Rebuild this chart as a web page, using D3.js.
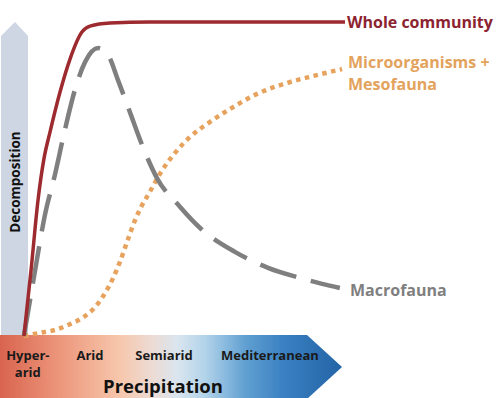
<!DOCTYPE html>
<html>
<head>
<style type="text/css">
body { margin: 0; background: #fff; }
svg { font-family: "Open Sans", Lato, sans-serif; font-weight: bold; }
.curve { fill: none; }
#whole { stroke: #9d2a2e; stroke-width: 3.5; }
#macro { stroke: #7f7f7f; stroke-width: 4.5; stroke-dasharray: 38,15; }
#micro { stroke: #e7a35e; stroke-width: 4.5; stroke-dasharray: 4.5,4.5; }
.cat { font-size: 13px; fill: #1a1a1a; }
.lbl { font-size: 16px; }
</style>
<script src="https://d3js.org/d3.v7.min.js"></script>
</head>
<body>
<script type="text/javascript">
var width  = 496;
var height = 398;

// precipitation (0-100) vs decomposition (0-100)
var wholeX = [0.3, 2.5, 4.7, 6.5, 8.4, 11.5, 14.6, 18.3, 20.8, 27, 39.4, 100];
var wholeY = [0, 21, 43.6, 56.4, 65, 77.7, 88.2, 96.8, 98.7, 99.7, 100, 100];

var macroX = [0.3, 2.2, 4.3, 6.8, 9.9, 13, 16.1, 19.3, 23.3, 26.4, 29.5, 33.2, 37, 41.6, 48.8, 55, 65.8, 76.1, 86, 92.9, 98.4];
var macroY = [0, 11.5, 24.2, 38.5, 51.3, 65.6, 78.3, 87.3, 91.7, 89.5, 81.5, 71.3, 60.8, 50.3, 41.1, 34.4, 26.8, 21.7, 18.5, 16.6, 15.3];

var microX = [0.3, 5.3, 9.9, 14, 18.3, 22.4, 25.5, 28, 30.1, 32.3, 34.8, 37, 39.4, 42.5, 47.2, 51.9, 58.1, 64.3, 72.7, 82, 90.1, 99.1];
var microY = [0, 1, 1.9, 3.5, 5.7, 9.2, 13.7, 18.5, 23.6, 29.9, 36.9, 41.7, 45.9, 51.6, 58.3, 63.4, 68.2, 72.3, 77.1, 80.6, 82.8, 85];

var categories = ["Hyper-|arid", "Arid", "Semiarid", "Mediterranean"];
var categoryAt = [1.5, 20.8, 43.8, 76.7];

var x = d3.scaleLinear().domain([0, 100]).range([23, 345]);
var y = d3.scaleLinear().domain([0, 100]).range([336, 22]);

var svg = d3.select("body").append("svg").attr("width", width).attr("height", height);

var defs = svg.append("defs");
var grad = defs.append("linearGradient").attr("id", "precip").attr("x1", "0%").attr("x2", "100%");
[[0, "#d9644f"], [0.17, "#ec957a"], [0.35, "#f7c7ac"], [0.45, "#ecdcd6"], [0.52, "#d9e5ef"], [0.6, "#b2d3ea"], [0.72, "#5f9fd1"], [0.83, "#3a80c2"], [1, "#2364a6"]]
	.forEach(function(s) {
		grad.append("stop").attr("offset", s[0]).attr("stop-color", s[1]);
	});

// vertical arrow (decomposition)
svg.append("path")
	.attr("d", "M1,36 L15,22 L28,36 L28,398 L1,398 Z")
	.attr("fill", "#cdd6e2");

svg.append("text")
	.attr("transform", "translate(20,182) rotate(-90)")
	.attr("text-anchor", "middle")
	.style("font-size", "13.5px")
	.attr("fill", "#111")
	.text("Decomposition");

// horizontal arrow (precipitation)
svg.append("path")
	.attr("d", "M0,335 L307,335 L342,367 L307,399 L0,399 Z")
	.attr("fill", "url(#precip)");

function line(xs, ys) {
	return d3.line()
		.x(function(d, i) { return x(xs[i]); })
		.y(function(d, i) { return y(ys[i]); })
		.curve(d3.curveMonotoneX)(xs);
}

svg.append("path").attr("class", "curve").attr("id", "micro").attr("d", line(microX, microY));
svg.append("path").attr("class", "curve").attr("id", "macro").attr("d", line(macroX, macroY));
svg.append("path").attr("class", "curve").attr("id", "whole").attr("d", line(wholeX, wholeY));

// series labels
svg.append("text").attr("class", "lbl").attr("x", 347).attr("y", 28).attr("fill", "#8c2330").text("Whole community");
svg.append("text").attr("class", "lbl").attr("x", 348).attr("y", 68).attr("fill", "#e3a35c").text("Microorganisms +");
svg.append("text").attr("class", "lbl").attr("x", 348).attr("y", 90).attr("fill", "#e3a35c").text("Mesofauna");
svg.append("text").attr("class", "lbl").attr("x", 350).attr("y", 296).attr("fill", "#7f7f7f").text("Macrofauna");

// categories along precipitation
categories.forEach(function(c, i) {
	var parts = c.split("|");
	var t = svg.append("text").attr("class", "cat")
		.attr("text-anchor", "middle")
		.attr("x", x(categoryAt[i])).attr("y", 360);
	parts.forEach(function(p, j) {
		t.append("tspan").attr("x", x(categoryAt[i])).attr("dy", j ? 17 : 0).text(p);
	});
});

svg.append("text")
	.attr("x", 163).attr("y", 393)
	.attr("text-anchor", "middle")
	.style("font-size", "18.5px")
	.attr("fill", "#111")
	.text("Precipitation");
</script>
</body>
</html>
